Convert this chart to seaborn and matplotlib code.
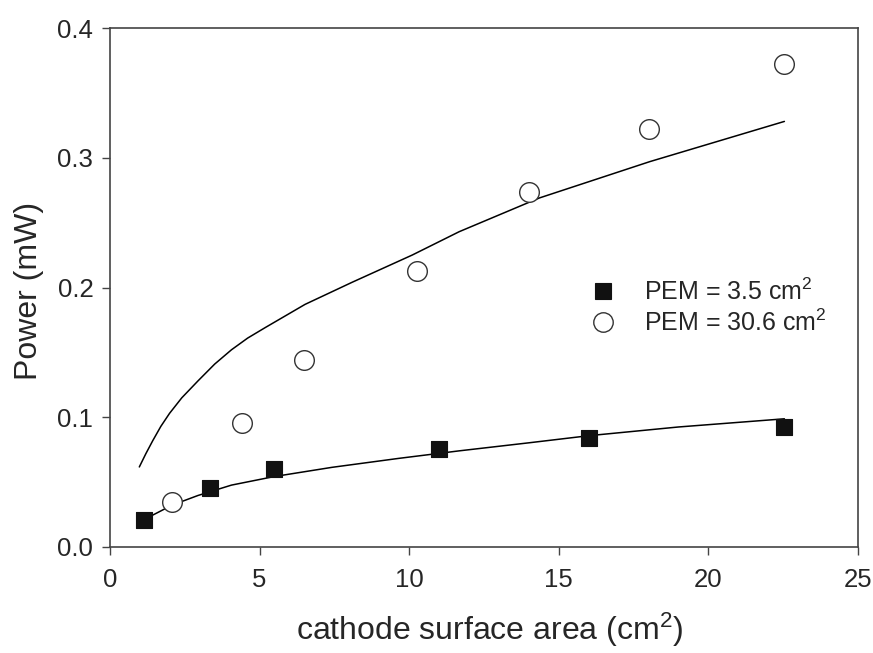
import numpy as np
import pandas as pd
import matplotlib
matplotlib.use('Agg')
import matplotlib.pyplot as plt
import seaborn as sns
from matplotlib.lines import Line2D

# dados
area_pem35 = [1.15, 3.33, 5.49, 11.0, 16.01, 22.52]
power_pem35 = [0.0207, 0.0458, 0.0601, 0.0755, 0.0839, 0.0927]

area_pem306 = [2.07, 4.42, 6.50, 10.27, 14.02, 18.02, 22.52]
power_pem306 = [0.035, 0.0953, 0.1438, 0.2126, 0.2735, 0.322, 0.372]

# curvas de ajuste (pontos lidos ao longo da linha)
fit35_x = [1.43, 1.8, 2.16, 2.94, 4.06, 5.49, 7.42, 9.65, 11.67, 14.0, 16.01, 19.0, 22.54]
fit35_y = [0.0246, 0.0290, 0.0330, 0.0397, 0.0477, 0.0543, 0.0614, 0.0683, 0.0741, 0.0803, 0.0858, 0.0925, 0.0988]

fit306_x = [0.98, 1.2, 1.43, 1.7, 1.99, 2.4, 2.94, 3.5, 4.06, 4.6, 5.18, 6.52, 8.09, 10.1, 11.67, 14.35, 18.04, 22.54]
fit306_y = [0.0617, 0.0720, 0.0820, 0.0930, 0.1030, 0.1150, 0.1280, 0.1410, 0.1520, 0.1610, 0.1690, 0.1870,
            0.2040, 0.2250, 0.2430, 0.2690, 0.2970, 0.3280]

labels = ['PEM = 3.5 cm$^2$', 'PEM = 30.6 cm$^2$']

sns.set_style('ticks')
plt.rcParams['font.family'] = ['Liberation Sans', 'DejaVu Sans']
plt.rcParams['mathtext.default'] = 'regular'

df35 = pd.DataFrame({'area': area_pem35, 'power': power_pem35})
df306 = pd.DataFrame({'area': area_pem306, 'power': power_pem306})

fig = plt.figure(figsize=(8.73, 6.53), dpi=100)
ax = fig.add_axes([110 / 873, 1 - 547 / 653, 748 / 873, 519 / 653])

sns.lineplot(x=fit306_x, y=fit306_y, color='black', lw=1.1, ax=ax, sort=False)
sns.lineplot(x=fit35_x, y=fit35_y, color='black', lw=1.1, ax=ax, sort=False)

sns.scatterplot(data=df35, x='area', y='power', marker='s', color='#111111',
                edgecolor='#111111', linewidth=0.8, s=140, ax=ax, zorder=3)
sns.scatterplot(data=df306, x='area', y='power', marker='o', color='white',
                edgecolor='#333333', linewidth=1.0, s=200, ax=ax, zorder=3)

handles = [
    Line2D([], [], ls='none', marker='s', ms=12, mfc='#111111', mec='#111111', mew=0.8),
    Line2D([], [], ls='none', marker='o', ms=14, mfc='white', mec='#333333', mew=1.0),
]
ax.legend(handles, labels, loc='upper left', bbox_to_anchor=(0.642, 0.517),
          frameon=False, fontsize=18, borderpad=0, borderaxespad=0,
          handlelength=1.0, handletextpad=1.15, labelspacing=0.19)

ax.set_xlim(0, 25)
ax.set_ylim(0, 0.4)
ax.set_xticks([0, 5, 10, 15, 20, 25])
ax.set_yticks([0.0, 0.1, 0.2, 0.3, 0.4])
ax.set_yticklabels(['0.0', '0.1', '0.2', '0.3', '0.4'])
ax.tick_params(direction='out', length=6, width=1, labelsize=18.5, color='#444444')
ax.tick_params(axis='x', pad=9)
ax.tick_params(axis='y', pad=6)
for s in ax.spines.values():
    s.set_color('#444444')
    s.set_linewidth(1.2)

ax.set_xlabel('cathode surface area (cm$^2$)', fontsize=23)
ax.set_ylabel('Power (mW)', fontsize=23)
ax.xaxis.label.set_va('baseline')
ax.xaxis.set_label_coords(0.507, -93 / 519)
ax.yaxis.set_label_coords(-66 / 748, 0.493)

fig.savefig('out.png', dpi=100)
